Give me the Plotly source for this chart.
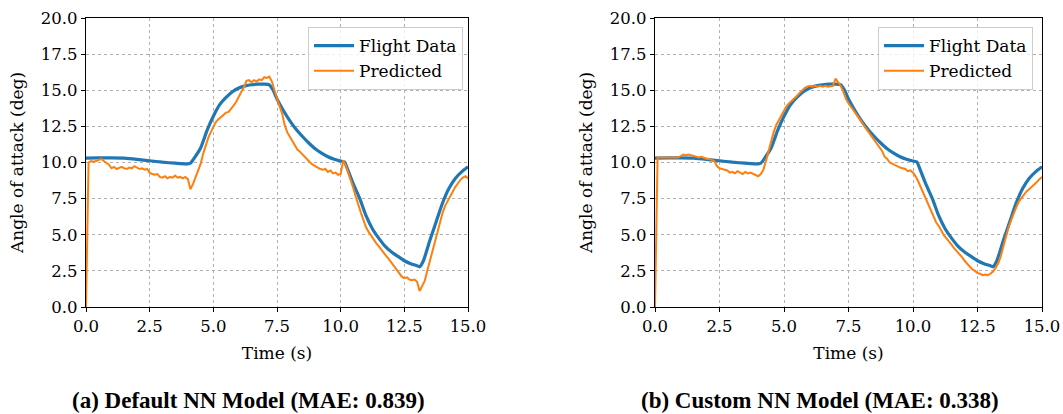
import numpy as np
import plotly.graph_objects as go

# ---------------- data ----------------
flight_t = [0.0, 0.5, 1.0, 1.5, 2.0, 2.5, 3.0, 3.5, 4.0, 4.1, 4.25, 4.5, 4.75, 5.0, 5.25, 5.5,
            5.75, 6.0, 6.25, 6.5, 6.75, 7.0, 7.2, 7.35, 7.5, 7.75, 8.0, 8.25, 8.5, 8.75, 9.0,
            9.25, 9.5, 9.75, 10.0, 10.15, 10.3, 10.5, 10.75, 11.0, 11.25, 11.5, 11.75, 12.0,
            12.25, 12.5, 12.75, 13.0, 13.1, 13.25, 13.5, 13.75, 14.0, 14.25, 14.5, 14.75, 15.0]
flight_v = [10.30, 10.32, 10.32, 10.30, 10.22, 10.12, 10.02, 9.95, 9.90, 9.95, 10.3, 11.0, 12.2,
            13.2, 14.0, 14.5, 14.9, 15.15, 15.3, 15.38, 15.42, 15.42, 15.38, 15.0, 14.4, 13.6,
            12.9, 12.3, 11.8, 11.35, 10.95, 10.65, 10.4, 10.22, 10.1, 10.03, 9.4, 8.5, 7.5, 6.3,
            5.4, 4.75, 4.2, 3.8, 3.5, 3.2, 3.0, 2.85, 2.78, 3.2, 4.6, 5.9, 7.2, 8.2, 8.9, 9.35, 9.7]

pred_t = [round(0.1 * i, 1) for i in range(151)]

pred_default = [
    0.0, 10.0, 10.1, 10.05, 10.1, 10.15, 10.25, 10.1, 9.95, 9.85,
    9.6, 9.7, 9.55, 9.65, 9.7, 9.6, 9.55, 9.65, 9.6, 9.75,
    9.65, 9.55, 9.6, 9.5, 9.55, 9.3, 9.2, 9.15, 9.2, 9.0,
    8.95, 9.05, 8.9, 9.0, 8.95, 9.1, 8.95, 9.0, 8.9, 9.0,
    8.85, 8.15, 8.5, 9.0, 9.4, 9.9, 10.6, 11.2, 11.7, 12.1,
    12.45, 12.8, 13.0, 13.15, 13.3, 13.45, 13.5, 13.7, 13.95, 14.2,
    14.6, 14.9, 15.2, 15.65, 15.7, 15.55, 15.7, 15.6, 15.75, 15.7,
    15.9, 15.85, 15.95, 15.6, 15.0, 14.4, 13.9, 13.4, 12.6, 12.1,
    11.8, 11.5, 11.1, 10.9, 10.75, 10.55, 10.4, 10.2, 10.0, 9.85,
    9.75, 9.6, 9.55, 9.5, 9.55, 9.35, 9.45, 9.25, 9.3, 9.15,
    9.2, 10.15, 9.8, 9.3, 8.8, 8.2, 7.6, 7.0, 6.5, 6.0,
    5.5, 5.2, 4.9, 4.65, 4.4, 4.2, 3.95, 3.7, 3.5, 3.3,
    3.05, 2.8, 2.55, 2.35, 2.1, 2.0, 2.05, 1.9, 1.85, 1.9,
    1.75, 1.1, 1.45, 1.8, 2.5, 3.2, 3.8, 4.6, 5.3, 5.9,
    6.5, 7.0, 7.35, 7.7, 8.0, 8.3, 8.55, 8.8, 8.95, 9.05,
    8.9]

pred_custom = [
    0.0, 10.35, 10.35, 10.35, 10.35, 10.35, 10.35, 10.35, 10.35, 10.35,
    10.45, 10.55, 10.5, 10.55, 10.5, 10.45, 10.45, 10.35, 10.4, 10.3,
    10.25, 10.25, 10.15, 10.1, 9.75, 9.6, 9.55, 9.5, 9.45, 9.3,
    9.35, 9.25, 9.4, 9.3, 9.2, 9.35, 9.25, 9.3, 9.2, 9.15,
    9.05, 9.2, 9.5, 10.1, 10.8, 11.5, 12.1, 12.6, 12.95, 13.3,
    13.6, 13.9, 14.1, 14.25, 14.45, 14.6, 14.8, 15.0, 15.15, 15.25,
    15.3, 15.25, 15.3, 15.25, 15.3, 15.25, 15.3, 15.25, 15.3, 15.3,
    15.8, 15.55, 15.3, 14.9, 14.4, 14.1, 13.85, 13.6, 13.4, 13.1,
    12.85, 12.55, 12.3, 12.0, 11.75, 11.5, 11.3, 11.05, 10.8, 10.4,
    10.25, 10.0, 9.9, 9.85, 9.7, 9.65, 9.6, 9.55, 9.4, 9.45,
    9.3, 9.05, 8.7, 8.3, 7.9, 7.45, 7.0, 6.6, 6.2, 5.85,
    5.6, 5.25, 4.95, 4.75, 4.55, 4.3, 4.05, 3.85, 3.7, 3.45,
    3.2, 3.0, 2.8, 2.6, 2.5, 2.35, 2.3, 2.2, 2.25, 2.2,
    2.3, 2.45, 2.7, 3.0, 3.5, 4.2, 4.9, 5.5, 6.0, 6.5,
    6.9, 7.3, 7.55, 7.8, 8.0, 8.15, 8.3, 8.5, 8.65, 8.85,
    9.0]

captions = ["(a) Default NN Model (MAE: 0.839)", "(b) Custom NN Model (MAE: 0.338)"]
series_names = ["Flight Data", "Predicted"]
x_title = "Time (s)"
y_title = "Angle of attack (deg)"

# ---------------- style ----------------
W, H = 1063, 414
BLUE = "#1f77b4"
ORANGE = "#ff7f0e"
SERIF = "DejaVu Serif, Liberation Serif, serif"
TICK_FONT = dict(family=SERIF, size=16.5, color="black")
TITLE_FONT = dict(family=SERIF, size=17, color="black")
CAP_FONT = dict(family="Liberation Serif, Times New Roman, serif", size=23, color="black")

fig = go.Figure()

panels = [("x", "y", "legend", pred_default), ("x2", "y2", "legend2", pred_custom)]
for xa, ya, lg, pred in panels:
    fig.add_trace(go.Scatter(x=flight_t, y=flight_v, mode="lines", name=series_names[0],
                             line=dict(color=BLUE, width=3.2, shape="spline", smoothing=0.5),
                             xaxis=xa, yaxis=ya, legend=lg))
    fig.add_trace(go.Scatter(x=pred_t, y=pred, mode="lines", name=series_names[1],
                             line=dict(color=ORANGE, width=2),
                             xaxis=xa, yaxis=ya, legend=lg))

def px_x(p):
    return p / W

def px_y(p):
    return 1 - p / H

ydom = [px_y(307), px_y(18)]
axis_common = dict(showline=True, linecolor="black", linewidth=1.2, mirror=True,
                   ticks="outside", ticklen=4, tickwidth=1.2, tickcolor="black",
                   showgrid=True, gridcolor="#b0b0b0", gridwidth=0.8, griddash="dot",
                   zeroline=False, tickfont=TICK_FONT, tickformat=".1f", dtick=2.5, tick0=0,
                   automargin=False)

legend_common = dict(xanchor="right", yanchor="top", bgcolor="rgba(255,255,255,0.8)",
                     bordercolor="#cccccc", borderwidth=1, font=TITLE_FONT, itemwidth=40)

fig.update_layout(
    width=W, height=H,
    margin=dict(l=0, r=0, t=0, b=0),
    paper_bgcolor="white", plot_bgcolor="white",
    xaxis=dict(domain=[px_x(86), px_x(468)], range=[0, 15], anchor="y",
               title=dict(text=x_title, font=TITLE_FONT, standoff=12), **axis_common),
    yaxis=dict(domain=ydom, range=[0, 20], anchor="x",
               title=dict(text=y_title, font=TITLE_FONT, standoff=12), **axis_common),
    xaxis2=dict(domain=[px_x(655), px_x(1042)], range=[0, 15], anchor="y2",
                title=dict(text=x_title, font=TITLE_FONT, standoff=12), **axis_common),
    yaxis2=dict(domain=ydom, range=[0, 20], anchor="x2",
                title=dict(text=y_title, font=TITLE_FONT, standoff=12), **axis_common),
    legend=dict(x=px_x(463), y=px_y(27), **legend_common),
    legend2=dict(x=px_x(1033), y=px_y(27), **legend_common),
    showlegend=True,
)

cap_x = [248, 820]
for cx, text in zip(cap_x, captions):
    fig.add_annotation(x=px_x(cx), y=px_y(400), xref="paper", yref="paper",
                       text="<b>" + text + "</b>", showarrow=False, font=CAP_FONT,
                       xanchor="center", yanchor="middle")

fig.write_html("out.html", config={"displayModeBar": False},
               post_script="document.body.style.margin='0px';document.body.style.overflow='hidden';")
